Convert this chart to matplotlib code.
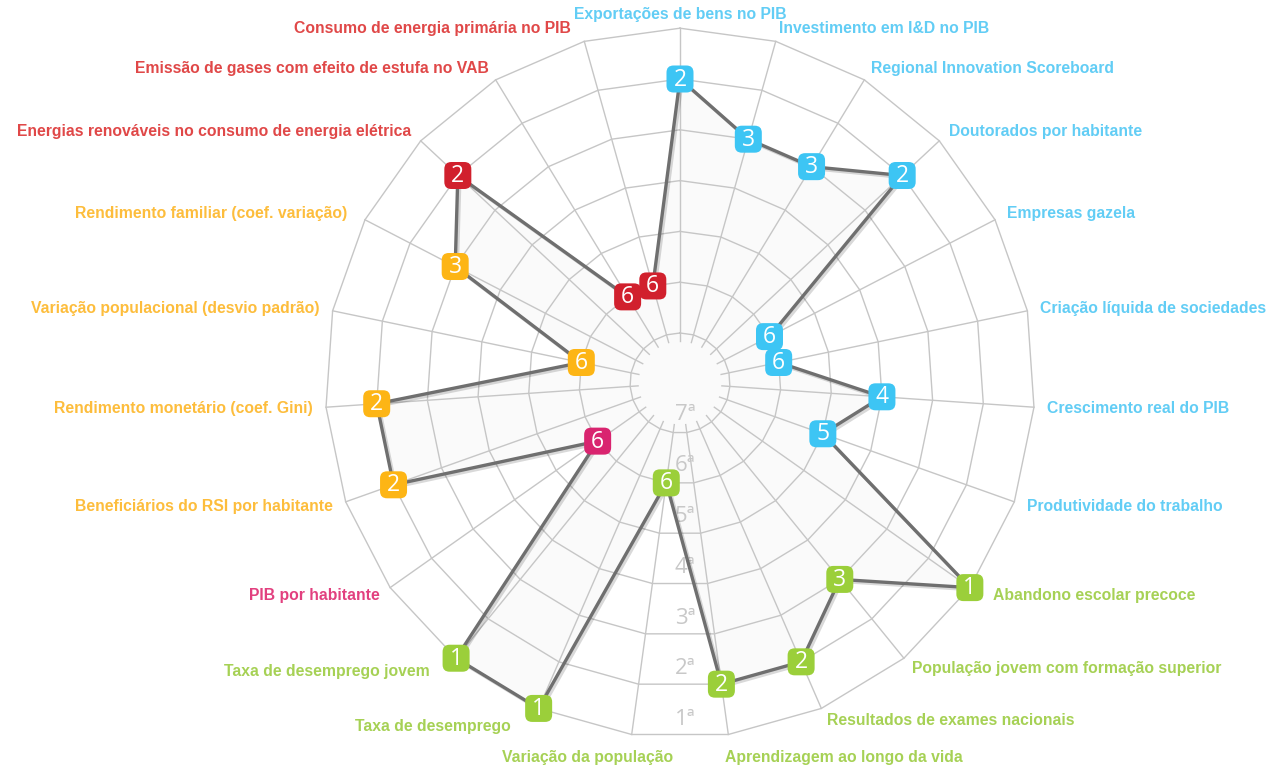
import numpy as np
import matplotlib
matplotlib.use("Agg")
import matplotlib.pyplot as plt
from matplotlib.patches import FancyBboxPatch, Polygon
import matplotlib.patheffects as pe

# ---------------- data ----------------
indicators = [
    "Exportações de bens no PIB",
    "Investimento em I&D no PIB",
    "Regional Innovation Scoreboard",
    "Doutorados por habitante",
    "Empresas gazela",
    "Criação líquida de sociedades",
    "Crescimento real do PIB",
    "Produtividade do trabalho",
    "Abandono escolar precoce",
    "População jovem com formação superior",
    "Resultados de exames nacionais",
    "Aprendizagem ao longo da vida",
    "Variação da população",
    "Taxa de desemprego",
    "Taxa de desemprego jovem",
    "PIB por habitante",
    "Beneficiários do RSI por habitante",
    "Rendimento monetário (coef. Gini)",
    "Variação populacional (desvio padrão)",
    "Rendimento familiar (coef. variação)",
    "Energias renováveis no consumo de energia elétrica",
    "Emissão de gases com efeito de estufa no VAB",
    "Consumo de energia primária no PIB",
]
ranks = [2, 3, 3, 2, 6, 6, 4, 5, 1, 3, 2, 2, 6, 1, 1, 6, 2, 2, 6, 3, 2, 6, 6]
groups = ["comp"] * 8 + ["coes_g"] * 7 + ["coes_p"] + ["coes_o"] * 4 + ["amb"] * 3
rank_labels = ["1ª", "2ª", "3ª", "4ª", "5ª", "6ª", "7ª"]

marker_colors = {"comp": "#3DC5F4", "coes_g": "#9BCF3A", "coes_p": "#D9246F",
                 "coes_o": "#FDB515", "amb": "#D1202D"}
label_colors = {"comp": "#62CDF5", "coes_g": "#A6D155", "coes_p": "#E2407F",
                "coes_o": "#FDBD3C", "amb": "#E04848"}

# ---------------- geometry ----------------
W, H = 1275, 771
cx, cy = 680, 383
r_in, step = 50.0, 50.8
n = len(indicators)
ang = np.arange(n) * 2 * np.pi / n


def radius(rank):
    return r_in + (7 - rank) * step


def xy(a, r):
    return r * np.sin(a), r * np.cos(a)


fig = plt.figure(figsize=(W / 100, H / 100), dpi=100)
ax = fig.add_axes([0, 0, 1, 1])
ax.set_xlim(-cx, W - cx)
ax.set_ylim(-(H - cy), cy)
ax.set_aspect("equal")
ax.axis("off")

grid_c = "#c6c6c6"
r_out = radius(1)

# rings
for k in range(1, 8):
    rx, ry = xy(np.r_[ang, ang[0]], radius(k))
    ax.plot(rx, ry, color=grid_c, lw=1.0, zorder=1)
# spokes
for a in ang:
    x0, y0 = xy(a, r_in - 8)
    x1, y1 = xy(a, r_out)
    ax.plot([x0, x1], [y0, y1], color=grid_c, lw=1.0, zorder=1)

# rank labels
for k in range(1, 8):
    ax.text(5, -radius(k) + 18, rank_labels[k - 1], ha="center", va="center",
            fontsize=16, color="#c8c8c8", family="Open Sans", zorder=2)

# data polygon
r_vals = np.array([radius(v) for v in ranks])
px, py = xy(ang, r_vals)
ax.add_patch(Polygon(np.c_[px, py], closed=True, fc="#f7f7f7", ec="none", alpha=0.5, zorder=0.5))
ax.plot(np.r_[px, px[0]], np.r_[py, py[0]], color="#6f6f6f", lw=2.4, zorder=3,
        solid_joinstyle="round",
        path_effects=[pe.SimpleLineShadow(offset=(1.5, -1.5), shadow_color="#000000", alpha=0.15),
                      pe.Normal()])

# markers
s = 27
rad = 7
for x, y, v, g in zip(px, py, ranks, groups):
    ax.add_patch(FancyBboxPatch((x - s / 2 + rad, y - s / 2 + rad), s - 2 * rad, s - 2 * rad,
                                boxstyle=f"round,pad={rad}", fc=marker_colors[g], ec="none", zorder=4))
    ax.text(x, y - 0.5, str(v), ha="center", va="center", color="white",
            fontsize=16.5, family="Open Sans", zorder=5)

# indicator labels
R_lab = 368
nudges = {8: (12, 0), 11: (-5, -10), 12: (43, -10), 13: (-23, -6), 14: (-18, -3),
          19: (-6, 0), 22: (-10, 0)}
for i, (a, lab, g) in enumerate(zip(ang, indicators, groups)):
    x, y = xy(a, R_lab)
    sa = np.sin(a)
    if abs(sa) < 0.05:
        ha = "center"
        y += 0
    elif sa > 0:
        ha = "left"
    else:
        ha = "right"
    dx, dy = nudges.get(i, (0, 0))
    ax.text(x + dx, y + dy, lab, ha=ha, va="center", fontsize=11.3,
            fontweight="bold", color=label_colors[g], family="Liberation Sans", zorder=5)

fig.savefig("out.png", dpi=100, facecolor="white")
